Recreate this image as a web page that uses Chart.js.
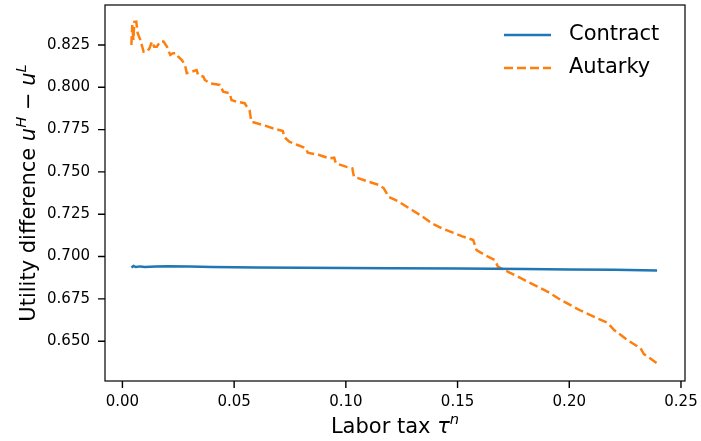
<!DOCTYPE html>
<html>
<head>
<meta charset="utf-8">
<script src="https://cdn.jsdelivr.net/npm/chart.js@4.4.1/dist/chart.umd.min.js"></script>
<style>
  html, body { margin: 0; padding: 0; background: #fff; }
  #wrap { width: 701px; height: 441px; }
</style>
</head>
<body>
<div id="wrap"><canvas id="chart" width="701" height="441"></canvas></div>
<script>
// --- Data ---
const contractX = [0.0040, 0.0050, 0.0060, 0.0080, 0.0100, 0.0150, 0.0200, 0.0300, 0.0400, 0.0600, 0.0800, 0.1000, 0.1200, 0.1500, 0.1800, 0.2000, 0.2200, 0.2393];
const contractY = [0.6935, 0.6944, 0.6938, 0.6942, 0.6939, 0.6942, 0.6943, 0.6941, 0.6939, 0.6936, 0.6934, 0.6932, 0.6931, 0.6929, 0.6926, 0.6924, 0.6922, 0.6918];

const autarkyX = [0.0040, 0.0044, 0.0049, 0.0053, 0.0062, 0.0068, 0.0080, 0.0095, 0.0110, 0.0121,
                  0.0132, 0.0142, 0.0154, 0.0169, 0.0184, 0.0199, 0.0214, 0.0226, 0.0240, 0.0250,
                  0.0266, 0.0280, 0.0288, 0.0310, 0.0332, 0.0339, 0.0362, 0.0369, 0.0391, 0.0436,
                  0.0451, 0.0480, 0.0488, 0.0510, 0.0547, 0.0555, 0.0569, 0.0577, 0.0629, 0.0673,
                  0.0718, 0.0725, 0.0747, 0.0784, 0.0822, 0.0829, 0.0881, 0.0925, 0.0948, 0.0955,
                  0.1000, 0.1029, 0.1036, 0.1089, 0.1148, 0.1170, 0.1192, 0.1237, 0.1296, 0.1340,
                  0.1385, 0.1429, 0.1518, 0.1570, 0.1585, 0.1622, 0.1667, 0.1681, 0.1726, 0.1800,
                  0.1889, 0.1904, 0.1963, 0.2052, 0.2126, 0.2171, 0.2201, 0.2260, 0.2319, 0.2334,
                  0.2363, 0.2393];
const autarkyY = [0.8250, 0.8368, 0.8280, 0.8386, 0.8388, 0.8321, 0.8280, 0.8210, 0.8210, 0.8230,
                  0.8270, 0.8240, 0.8240, 0.8270, 0.8270, 0.8240, 0.8191, 0.8201, 0.8201, 0.8181,
                  0.8161, 0.8132, 0.8083, 0.8092, 0.8102, 0.8073, 0.8063, 0.8043, 0.8024, 0.8014,
                  0.7974, 0.7965, 0.7925, 0.7915, 0.7906, 0.7890, 0.7866, 0.7797, 0.7777, 0.7758,
                  0.7742, 0.7705, 0.7678, 0.7659, 0.7639, 0.7614, 0.7600, 0.7580, 0.7584, 0.7551,
                  0.7531, 0.7521, 0.7472, 0.7448, 0.7423, 0.7403, 0.7353, 0.7324, 0.7275, 0.7239,
                  0.7196, 0.7167, 0.7121, 0.7098, 0.7038, 0.7009, 0.6979, 0.6940, 0.6910, 0.6861,
                  0.6802, 0.6792, 0.6743, 0.6680, 0.6635, 0.6609, 0.6566, 0.6507, 0.6458, 0.6424,
                  0.6398, 0.6369];

const xTicks = [0.00, 0.05, 0.10, 0.15, 0.20, 0.25];
const yTicks = [0.650, 0.675, 0.700, 0.725, 0.750, 0.775, 0.800, 0.825];
const seriesNames = ['Contract', 'Autarky'];

// --- Helpers ---
const FONT = '"DejaVu Sans", sans-serif';
const TICK_LEN = 7;

function toPoints(xs, ys) {
    return xs.map((x, i) => ({ x: x, y: ys[i] }));
}

// draws text made of parts: {t, it (italic), sup (superscript)}
function drawRich(ctx, parts, cx, baseY, size) {
    const fontFor = p => (p.it ? 'italic ' : '') + (p.sup ? size * 0.7 : size) + 'px ' + FONT;
    let total = 0;
    parts.forEach(p => { ctx.font = fontFor(p); total += ctx.measureText(p.t).width; });
    let x = cx - total / 2;
    ctx.textAlign = 'left';
    ctx.textBaseline = 'alphabetic';
    parts.forEach(p => {
        ctx.font = fontFor(p);
        ctx.fillText(p.t, x, p.sup ? baseY - size * 0.42 : baseY);
        x += ctx.measureText(p.t).width;
    });
}

const xTitle = [{ t: 'Labor tax ' }, { t: 'τ', it: true }, { t: 'n', it: true, sup: true }];
const yTitle = [{ t: 'Utility difference ' }, { t: 'u', it: true }, { t: 'H', it: true, sup: true },
                { t: ' − ' }, { t: 'u', it: true }, { t: 'L', it: true, sup: true }];

// --- Frame, tick marks, axis titles and legend ---
const decorations = {
    id: 'decorations',
    afterDraw(chart) {
        const ctx = chart.ctx;
        const a = chart.chartArea;
        const sx = chart.scales.x, sy = chart.scales.y;
        ctx.save();
        ctx.strokeStyle = '#000';
        ctx.lineWidth = 1.2;
        ctx.strokeRect(a.left, a.top, a.right - a.left, a.bottom - a.top);

        // outward tick marks, at the positions of the scales' own ticks
        ctx.beginPath();
        sx.ticks.forEach((t, i) => {
            const px = sx.getPixelForTick(i);
            ctx.moveTo(px, a.bottom);
            ctx.lineTo(px, a.bottom + TICK_LEN);
        });
        sy.ticks.forEach((t, i) => {
            const py = sy.getPixelForTick(i);
            ctx.moveTo(a.left, py);
            ctx.lineTo(a.left - TICK_LEN, py);
        });
        ctx.strokeStyle = '#000';
        ctx.lineWidth = 1.4;
        ctx.stroke();

        ctx.fillStyle = '#000';
        drawRich(ctx, xTitle, (a.left + a.right) / 2, 433, 21);

        ctx.save();
        ctx.translate(35, (a.top + a.bottom) / 2);
        ctx.rotate(-Math.PI / 2);
        drawRich(ctx, yTitle, 0, 0, 21);
        ctx.restore();

        // legend
        chart.data.datasets.forEach((ds, i) => {
            const y = 35 + i * 33;
            ctx.beginPath();
            ctx.strokeStyle = ds.borderColor;
            ctx.lineWidth = ds.borderWidth;
            ctx.setLineDash(ds.borderDash || []);
            ctx.moveTo(504, y);
            ctx.lineTo(551, y);
            ctx.stroke();
            ctx.setLineDash([]);
            ctx.fillStyle = '#000';
            ctx.font = '21px ' + FONT;
            ctx.textAlign = 'left';
            ctx.textBaseline = 'middle';
            ctx.fillText(ds.label, 569, y);
        });
        ctx.restore();
    }
};

// --- Chart ---
new Chart(document.getElementById('chart'), {
    type: 'line',
    data: {
        datasets: [{
            label: seriesNames[0],
            data: toPoints(contractX, contractY),
            borderColor: '#1f77b4',
            borderWidth: 2.5,
            pointRadius: 0,
            tension: 0
        }, {
            label: seriesNames[1],
            data: toPoints(autarkyX, autarkyY),
            borderColor: '#ff7f0e',
            borderWidth: 2.5,
            borderDash: [9, 4],
            pointRadius: 0,
            tension: 0
        }]
    },
    options: {
        responsive: false,
        animation: false,
        layout: { padding: { top: 5, right: 16, left: 0, bottom: 0 } },
        plugins: { legend: { display: false }, tooltip: { enabled: false } },
        scales: {
            x: {
                type: 'linear',
                min: -0.0078,
                max: 0.2518,
                afterBuildTicks: s => { s.ticks = xTicks.map(v => ({ value: v })); },
                afterFit: s => {
                    s.height = 60;
                    s.paddingLeft = 0; s.paddingRight = 0; s.paddingTop = 0; s.paddingBottom = 0;
                },
                border: { display: false },
                grid: { display: false, drawTicks: false },
                ticks: {
                    color: '#000',
                    padding: 12,
                    maxRotation: 0,
                    font: { family: FONT, size: 15 },
                    callback: v => v.toFixed(2)
                }
            },
            y: {
                min: 0.6265,
                max: 0.8486,
                afterBuildTicks: s => { s.ticks = yTicks.map(v => ({ value: v })); },
                afterFit: s => {
                    s.width = 105;
                    s.paddingLeft = 0; s.paddingRight = 0; s.paddingTop = 0; s.paddingBottom = 0;
                },
                border: { display: false },
                grid: { display: false, drawTicks: false },
                ticks: {
                    color: '#000',
                    padding: 15,
                    font: { family: FONT, size: 15 },
                    callback: v => v.toFixed(3)
                }
            }
        }
    },
    plugins: [decorations]
});
</script>
</body>
</html>
